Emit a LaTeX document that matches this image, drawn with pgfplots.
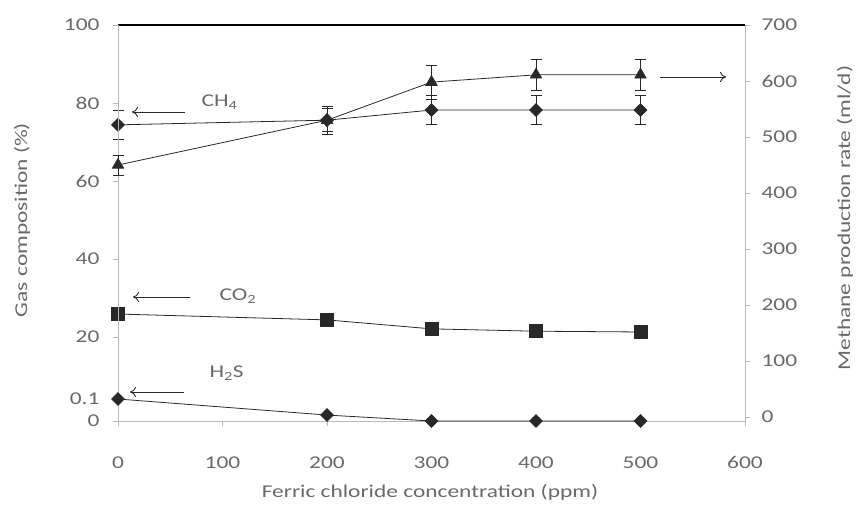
\documentclass[border=0pt]{standalone}
\usepackage{fontspec}
\setmainfont{Carlito}[FakeStretch=1.3]
\usepackage{pgfplots}
\pgfplotsset{compat=1.18}
\usetikzlibrary{arrows.meta}
\definecolor{txt}{RGB}{105,105,105}
\definecolor{axln}{RGB}{185,185,185}
\definecolor{ln}{RGB}{40,40,40}

\begin{document}
\begin{tikzpicture}
\path[use as bounding box] (0pt,0pt) rectangle (860pt,515pt);
\pgfplotsset{every axis/.append style={
  scale only axis, width=627pt, height=396pt,
  at={(118pt,94pt)}, anchor=south west,
  xmin=0, xmax=600, clip=false,
  tick label style={font=\fontsize{18}{19}\selectfont, text=txt},
  /pgf/number format/assume math mode=true,
  tick align=outside, major tick length=5pt,
  tick style={axln, thin}, axis line style={axln, thin},
},
ebar/.style={error bars/.cd, y dir=both, y explicit,
    error bar style={ln, line width=0.8pt},
    error mark options={rotate=90, ln, mark size=5.5pt, line width=0.8pt}},
}

% gas composition, values >= 20 %
\begin{axis}[ymin=-1.52, ymax=100,
  axis x line*=bottom, axis y line*=left,
  xtick={0,100,...,600}, ytick={20,40,60,80,100},
  xticklabel style={yshift=-27pt}, yticklabel style={xshift=-10pt}]
\addplot[ln, line width=0.8pt, mark=square*, mark size=4.5pt,
  mark options={rotate=45, fill=ln}, ebar] coordinates {
  (0,74.4) +- (0,3.6) (200,75.6) +- (0,3.0) (300,78.2) +- (0,3.8)
  (400,78.2) +- (0,3.8) (500,78.2) +- (0,3.8)};
\addplot[ln, line width=0.8pt, mark=square*, mark size=6.5pt,
  mark options={fill=ln}] coordinates {
  (0,25.9) (200,24.4) (300,22.1) (400,21.5) (500,21.3)};
\draw[black, line width=1.2pt] (axis cs:0,100) -- (axis cs:600,100);
\end{axis}

% gas composition, H2S below the break
\begin{axis}[ymin=0, ymax=1.8018,
  axis x line=none, axis y line*=left,
  ytick={0,0.1}, yticklabels={0,0.1}, yticklabel style={xshift=-10pt}]
\addplot[ln, line width=0.8pt, mark=square*, mark size=4.5pt,
  mark options={rotate=45, fill=ln}] coordinates {
  (0,0.1) (200,0.027) (300,0) (400,0) (500,0)};
\end{axis}

% methane production rate
\begin{axis}[ymin=-7.2, ymax=700,
  axis x line=none, axis y line*=right,
  ytick={0,100,...,700}, yticklabel style={xshift=8pt}]
\addplot[ln, line width=0.8pt, mark=triangle*, mark size=6.5pt,
  mark options={fill=ln}, ebar] coordinates {
  (0,450) +- (0,18) (200,530) +- (0,25) (300,598) +- (0,30)
  (400,611) +- (0,27) (500,611) +- (0,27)};
\end{axis}

\begin{scope}[x=1pt, y=1pt, font=\fontsize{18}{19}\selectfont, text=txt]
\node[rotate=90] at (22,295) {Gas composition (\%)};
\node[rotate=90] at (845,297) {Methane production rate (ml/d)};
\node at (430,23) {Ferric chloride concentration (ppm)};
\draw[ln, line width=0.9pt, -{To[length=6pt, width=10pt]}] (185,403) -- (132,403);
\node[anchor=west] at (198,413) {CH\textsubscript{4}};
\draw[ln, line width=0.9pt, -{To[length=6pt, width=10pt]}] (190,218) -- (133,218);
\node[anchor=west] at (216,219) {CO\textsubscript{2}};
\draw[ln, line width=0.9pt, -{To[length=6pt, width=10pt]}] (184,123) -- (130,123);
\node[anchor=west] at (206,142) {H\textsubscript{2}S};
\draw[ln, line width=0.9pt, -{To[length=6pt, width=10pt]}] (660,438) -- (726,438);
\end{scope}
\end{tikzpicture}
\end{document}
